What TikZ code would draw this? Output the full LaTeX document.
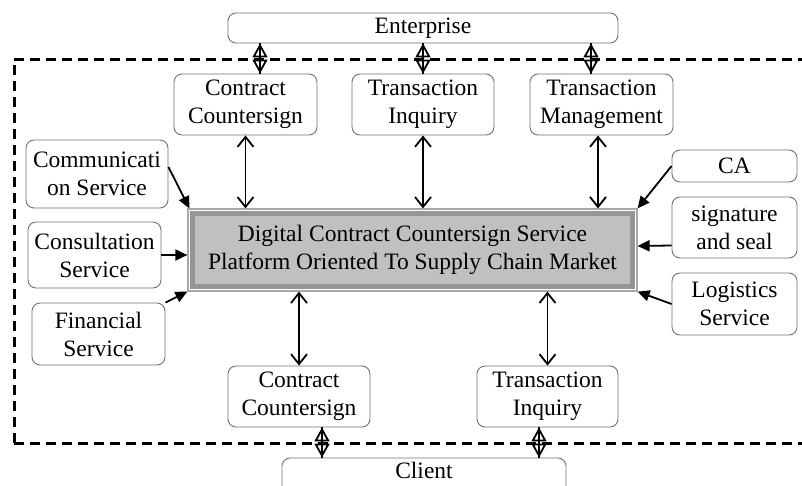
\documentclass[tikz,border=0pt]{standalone}
\usepackage{fontspec}
\setmainfont{Liberation Serif}
\usetikzlibrary{arrows.meta}
\definecolor{boxline}{HTML}{707070}
\definecolor{outerline}{HTML}{A8A8A8}
\definecolor{bandgray}{HTML}{959595}
\definecolor{fillgray}{HTML}{C0C0C0}
\tikzset{
  box/.style={draw=boxline, line width=0.9pt, rounded corners=8pt, align=center, inner sep=0pt,
    font=\fontsize{23.5}{28}\selectfont},
  dbl/.style={line width=1.8pt, {Straight Barb[length=10pt,width=16pt,line width=1.8pt]}-{Straight Barb[length=10pt,width=16pt,line width=1.8pt]}},
  feed/.style={line width=1.8pt, -{Triangle[length=12pt,width=11pt]}},
  dia/.style={line width=1.8pt, {Triangle[open,length=14pt,width=15pt,line width=1.8pt]}-{Triangle[open,length=14pt,width=15pt,line width=1.8pt]}},
  border/.style={line width=3pt, dash pattern=on 10pt off 6pt}
}
\begin{document}
\begin{tikzpicture}[x=1pt,y=-1pt]
\useasboundingbox (0,0) rectangle (802,485);
\begin{scope}
\clip (0,0) rectangle (802,485);
% dashed frame
\draw[border] (14,443) -- (14,59) -- (815,59);
\draw[border] (14,443) -- (815,443);
% nodes
\node[box, minimum width=390pt, minimum height=30pt] (ent) at (423,28) {Enterprise};
\node[box, minimum width=284pt, minimum height=44pt, text depth=0pt] (client) at (424,480) {};
\node[font=\fontsize{23.5}{28}\selectfont] (clienttxt) at (424,470) {Client};
\node[box, minimum width=143pt, minimum height=61pt] (cc1) at (245.5,104.5) {Contract\\Countersign};
\node[box, minimum width=142pt, minimum height=61pt] (ti1) at (423,104.5) {Transaction\\Inquiry};
\node[box, minimum width=143pt, minimum height=61pt] (tm1) at (601.5,104.5) {Transaction\\Management};
\node[box, minimum width=142pt, minimum height=68pt] (comm) at (97,174) {Communicati\\on Service};
\node[box, minimum width=133pt, minimum height=66pt] (cons) at (94.5,255) {Consultation\\Service};
\node[box, minimum width=133pt, minimum height=62pt] (fin) at (98.5,334) {Financial\\Service};
\node[box, minimum width=125pt, minimum height=32pt] (ca) at (734.5,166) {CA};
\node[box, minimum width=125pt, minimum height=61pt] (sig) at (734.5,227.5) {signature\\and seal};
\node[box, minimum width=125pt, minimum height=62pt] (log) at (734.5,304) {Logistics\\Service};
\node[box, minimum width=142pt, minimum height=61pt] (cc2) at (299,396.5) {Contract\\Countersign};
\node[box, minimum width=141pt, minimum height=61pt] (ti2) at (547.5,396.5) {Transaction\\Inquiry};
% main platform box
\node[draw=outerline, line width=1.2pt, fill=white, minimum width=449pt, minimum height=82pt, inner sep=0pt] (main) at (412.5,250) {};
\fill[fillgray, draw=bandgray, line width=4.5pt] ([xshift=5pt,yshift=-5pt]main.north west) rectangle ([xshift=-5pt,yshift=5pt]main.south east);
\node[align=center, font=\fontsize{23.5}{28}\selectfont] (maintxt) at (main.center) {Digital Contract Countersign Service\\Platform Oriented To Supply Chain Market};
% vertical double arrows
\draw[dbl] (cc1.south) -- (cc1.south |- main.north);
\draw[dbl] (ti1.south) -- (ti1.south |- main.north);
\draw[dbl] (tm1.south -| 598,0) -- (main.north -| 598,0);
\draw[dbl] (main.south -| cc2.north) -- (cc2.north);
\draw[dbl] (main.south -| ti2.north) -- (ti2.north);
% feeding arrows
\draw[feed] ([yshift=7pt]comm.east) -- ([xshift=2pt]main.north west);
\draw[feed] (cons.east) -- (main.west |- cons.east);
\draw[feed] (fin.north east) -- (main.south west);
\draw[feed] (ca.west) -- (main.north east);
\draw[feed] ([yshift=-18pt]sig.west) -- (main.east |- 0,246);
\draw[feed] (log.west) -- (main.south east);
% diamond connectors to Enterprise / Client
\coordinate (d1) at (260,0);
\coordinate (d2) at (423,0);
\coordinate (d3) at (591,0);
\coordinate (d4) at (322,0);
\coordinate (d5) at (539,0);
\foreach \d/\b in {d1/cc1, d2/ti1, d3/tm1} {
  \draw[dia] (ent.south -| \d) -- (\b.north -| \d);
  \draw[line width=1.5pt] (ent.south -| \d) -- (\b.north -| \d);
}
\foreach \d/\b in {d4/cc2, d5/ti2} {
  \draw[dia] (\b.south -| \d) -- (client.north -| \d);
  \draw[line width=1.5pt] (\b.south -| \d) -- (client.north -| \d);
}
\end{scope}
\end{tikzpicture}
\end{document}
